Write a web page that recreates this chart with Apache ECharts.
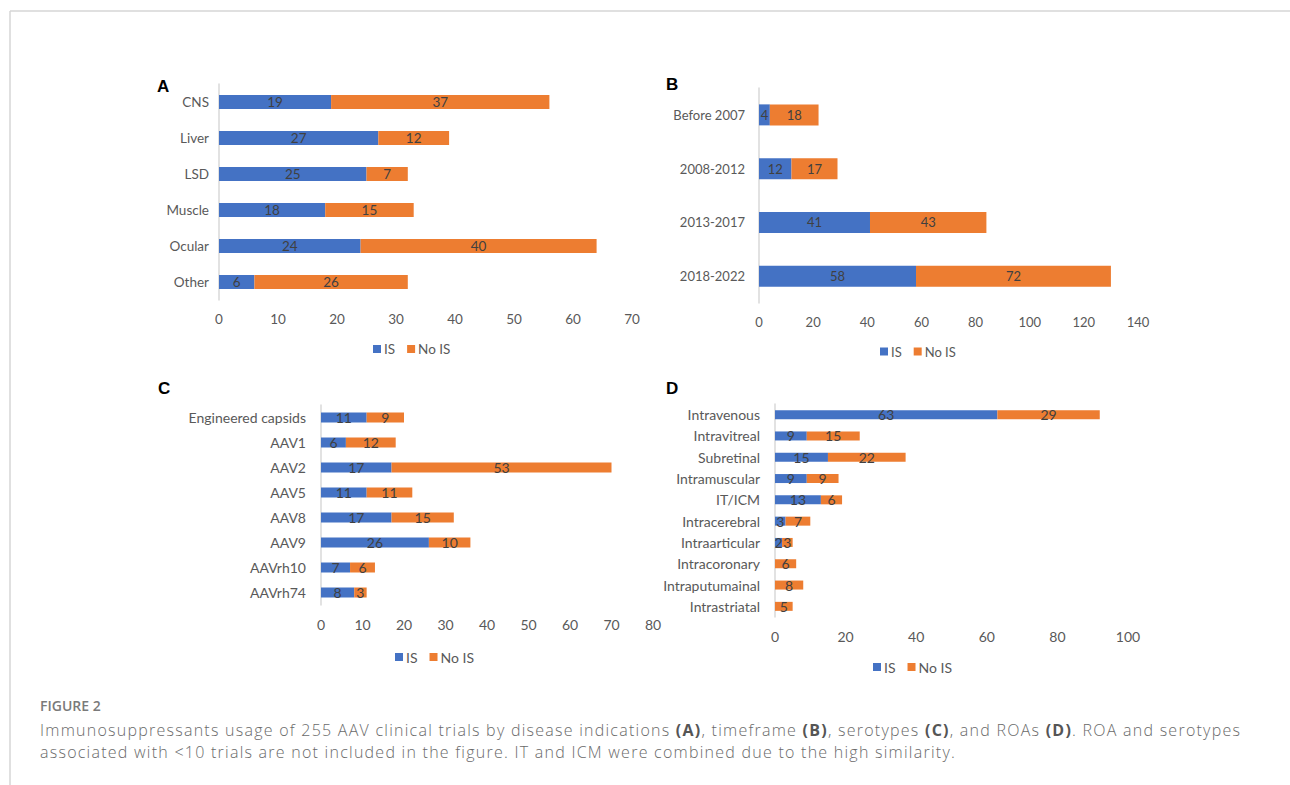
<!DOCTYPE html>
<html><head><meta charset="utf-8">
<script src="https://cdn.jsdelivr.net/npm/echarts@6/dist/echarts.min.js"></script>
<style>
html,body{margin:0;padding:0;background:#fff;}
#wrap{position:relative;width:1290px;height:785px;}
#c{position:absolute;left:0;top:0;width:1290px;height:785px;}
#fig{position:absolute;left:40px;top:697px;font:600 14px "Open Sans",sans-serif;color:#7a7a7a;line-height:18px;white-space:nowrap;}
.cap{position:absolute;left:40px;font:300 16px "Open Sans",sans-serif;letter-spacing:1.25px;color:#6a6a6a;line-height:22px;white-space:nowrap;}
.cap b{font-weight:700;color:#555;}
</style>
</head><body><div id="wrap"><div id="c"></div>
<div id="fig">FIGURE 2</div>
<div class="cap" style="top:719px;"><span>Immunosuppressants usage of 255 AAV clinical trials by disease indications </span><b>(A)</b><span>, timeframe </span><b>(B)</b><span>, serotypes </span><b>(C)</b><span>, and ROAs </span><b>(D)</b><span>. ROA and serotypes</span></div>
<div class="cap" style="top:741px;">associated with &lt;10 trials are not included in the figure. IT and ICM were combined due to the high similarity.</div>
</div>
<script>
const catA = ['CNS','Liver','LSD','Muscle','Ocular','Other'];
const isA = [19,27,25,18,24,6];
const noA = [37,12,7,15,40,26];
const catB = ['Before 2007','2008-2012','2013-2017','2018-2022'];
const isB = [4,12,41,58];
const noB = [18,17,43,72];
const catC = ['Engineered capsids','AAV1','AAV2','AAV5','AAV8','AAV9','AAVrh10','AAVrh74'];
const isC = [11,6,17,11,17,26,7,8];
const noC = [9,12,53,11,15,10,6,3];
const catD = ['Intravenous','Intravitreal','Subretinal','Intramuscular','IT/ICM','Intracerebral','Intraarticular','Intracoronary','Intraputumainal','Intrastriatal'];
const isD = [63,9,15,9,13,3,2,0,0,0];
const noD = [29,15,22,9,6,7,3,6,8,5];
const ticksA = {max:70, interval:10};
const ticksB = {max:140, interval:20};
const ticksC = {max:80, interval:10};
const ticksD = {max:100, interval:20};

const FONT = 'Lato, "Open Sans", sans-serif';
const BLUE = '#4472C4', ORANGE = '#ED7D31';
const panels = [
  {cat:catA, is:isA, no:noA, t:ticksA, grid:{left:219, top:84, width:413, height:216}, bw:14, ym:10, fs:13.5, lg:{left:368, top:337}, letter:{x:157,y:78,t:'A'}},
  {cat:catB, is:isB, no:noB, t:ticksB, grid:{left:759, top:88, width:379, height:215}, bw:21, ym:14, fs:13, lg:{left:875, top:340}, letter:{x:666,y:76,t:'B'}},
  {cat:catC, is:isC, no:noC, t:ticksC, grid:{left:321, top:405, width:332, height:200}, bw:10, ym:15, fs:14, lg:{left:390, top:645}, letter:{x:158,y:380,t:'C'}},
  {cat:catD, is:isD, no:noD, t:ticksD, grid:{left:775, top:404, width:353, height:213}, bw:9, ym:15, fs:14, lg:{left:868, top:655}, letter:{x:666,y:380,t:'D'}}
];
const grids=[], xAxes=[], yAxes=[], series=[], legends=[], graphics=[];
panels.forEach((p,i)=>{
  const lbl = {show:true, position:'inside', color:'#404040', fontSize:p.fs, fontFamily:FONT,
    formatter: q => (q.value ? String(q.value) : '')};
  grids.push(p.grid);
  xAxes.push({type:'value', gridIndex:i, min:0, max:p.t.max, interval:p.t.interval,
    axisLine:{show:false}, axisTick:{show:false}, splitLine:{show:false},
    axisLabel:{color:'#595959', fontSize:p.fs, fontFamily:FONT, margin:12}});
  yAxes.push({type:'category', gridIndex:i, data:p.cat, inverse:true,
    axisLine:{show:true, lineStyle:{color:'#d9d9d9', width:1.5}}, axisTick:{show:false},
    axisLabel:{color:'#595959', fontSize:p.fs, fontFamily:FONT, margin:p.ym}});
  series.push({name:'IS', type:'bar', stack:'s'+i, xAxisIndex:i, yAxisIndex:i, data:p.is,
    barWidth:p.bw, itemStyle:{color:BLUE}, label:lbl, silent:true});
  series.push({name:'No IS', type:'bar', stack:'s'+i, xAxisIndex:i, yAxisIndex:i, data:p.no,
    barWidth:p.bw, itemStyle:{color:ORANGE}, label:lbl, silent:true});
  legends.push({left:p.lg.left, top:p.lg.top, data:['IS','No IS'], icon:'rect', itemWidth:8, itemHeight:8,
    itemGap:12, textStyle:{color:'#595959', fontSize:p.fs, fontFamily:FONT, padding:[0,0,0,-2]}, selectedMode:false});
  graphics.push({type:'text', left:p.letter.x, top:p.letter.y,
    style:{text:p.letter.t, font:'bold 17px "Liberation Sans", Arial, sans-serif', fill:'#000'}});
});
graphics.push({type:'line', shape:{x1:10,y1:11,x2:1290,y2:11}, style:{stroke:'#d6d6d6', lineWidth:1.5}});
graphics.push({type:'line', shape:{x1:10,y1:11,x2:10,y2:785}, style:{stroke:'#d6d6d6', lineWidth:1.5}});

const chart = echarts.init(document.getElementById('c'), null, {renderer:'svg'});
chart.setOption({animation:false, backgroundColor:'#fff', grid:grids, xAxis:xAxes, yAxis:yAxes,
  series:series, legend:legends, graphic:graphics});
</script></body></html>
